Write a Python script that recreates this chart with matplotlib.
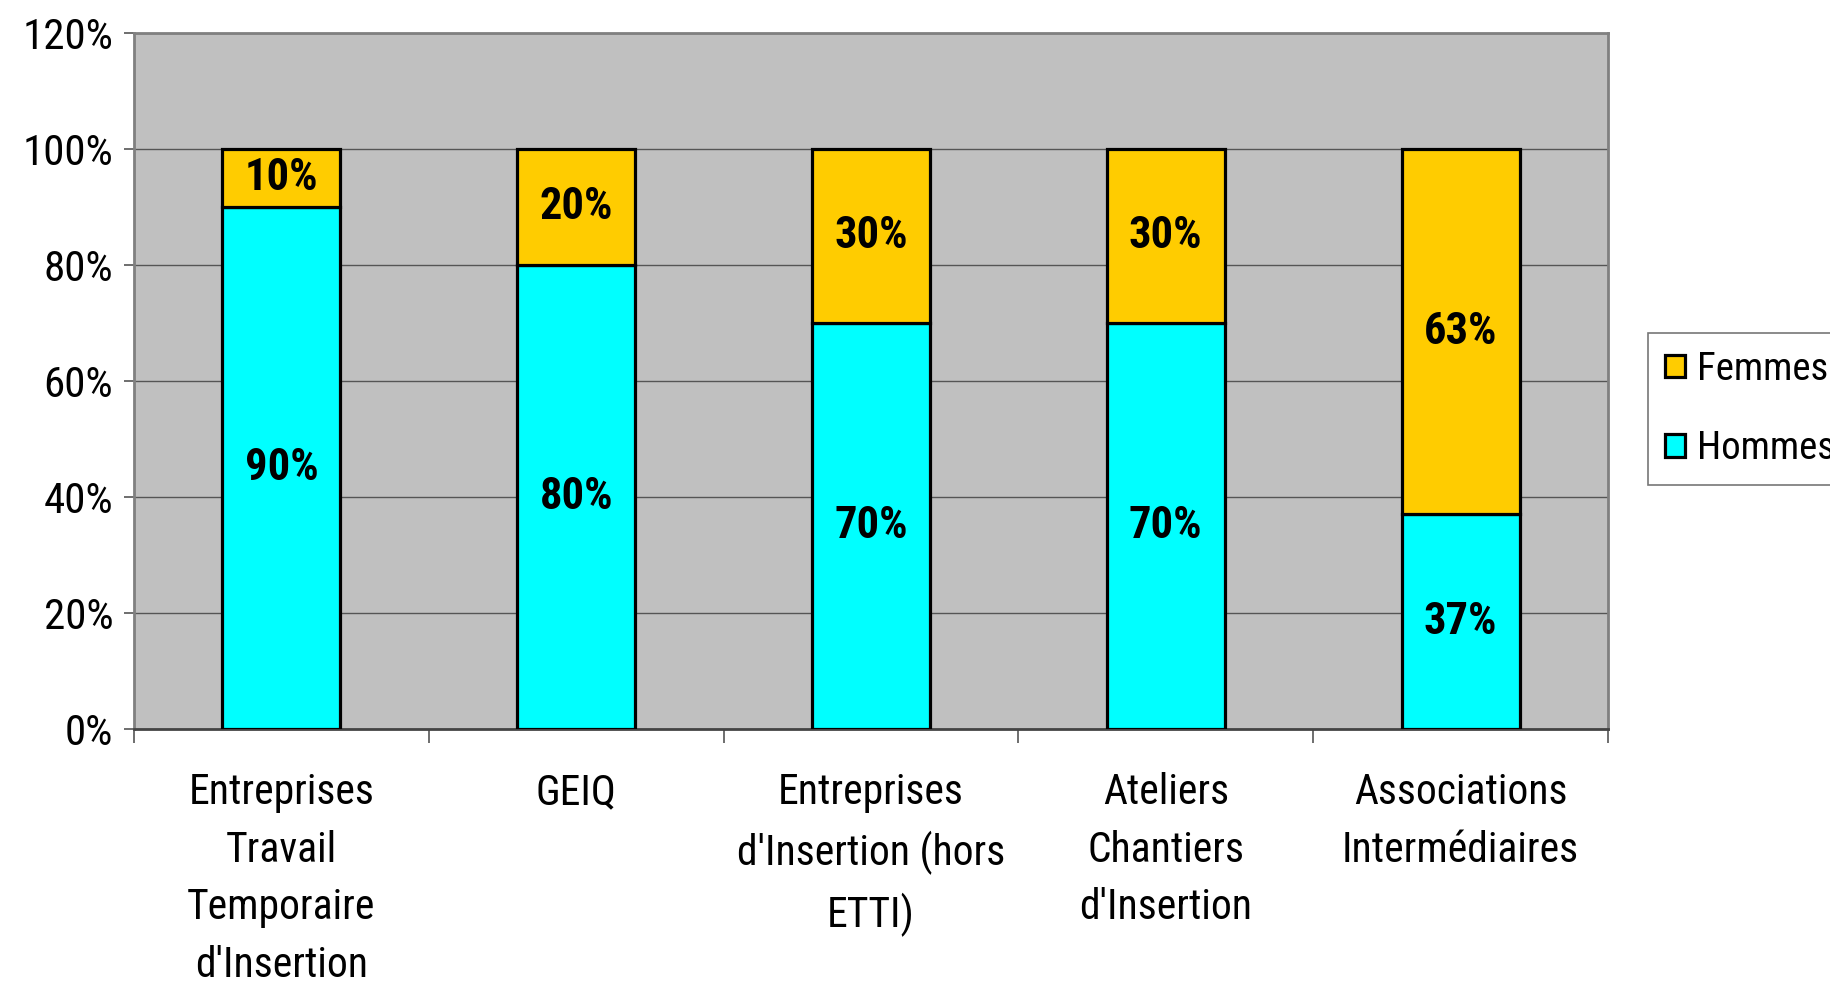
import numpy as np
import matplotlib.pyplot as plt
from matplotlib import font_manager

names = {f.name for f in font_manager.fontManager.ttflist}
fam = 'Liberation Sans'
for cand in ['Liberation Sans Narrow', 'Arial Narrow', 'Roboto Condensed']:
    if cand in names:
        fam = cand
        break
plt.rcParams['font.family'] = [fam, 'DejaVu Sans']

categories = ["Entreprises\nTravail\nTemporaire\nd'Insertion", "GEIQ",
              "Entreprises\nd'Insertion (hors\nETTI)", "Ateliers\nChantiers\nd'Insertion",
              "Associations\nIntermédiaires"]
hommes = [90, 80, 70, 70, 37]
femmes = [10, 20, 30, 30, 63]

fig = plt.figure(figsize=(18.31, 9.89), dpi=100)
ax = fig.add_axes([134/1831, 1-729/989, 1474/1831, 696/989])
ax.set_facecolor('#C0C0C0')

x = np.arange(len(categories))
w = 0.40
b1 = ax.bar(x, hommes, w, color='#00FFFF', edgecolor='black', linewidth=2.3, label='Hommes', zorder=3)
b2 = ax.bar(x, femmes, w, bottom=hommes, color='#FFCC00', edgecolor='black', linewidth=2.3, label='Femmes', zorder=3)

for i in range(len(categories)):
    ax.text(x[i], hommes[i] / 2, f"{hommes[i]}%", ha='center', va='center', fontsize=32, fontweight='bold', zorder=4)
    ax.text(x[i], hommes[i] + femmes[i] / 2, f"{femmes[i]}%", ha='center', va='center', fontsize=32, fontweight='bold', zorder=4)

ax.set_xlim(-0.5, len(categories) - 0.5)
ax.set_ylim(0, 120)
ax.set_yticks(np.arange(0, 121, 20))
ax.set_yticklabels([f"{v}%" for v in range(0, 121, 20)], fontsize=31)
ax.yaxis.grid(True, color='#555555', linewidth=1.0, zorder=1)
ax.tick_params(axis='y', length=7, width=1.2, color='#555555', pad=8)

ax.set_xticks(x)
ax.set_xticklabels(categories, fontsize=30, linespacing=1.52, va='top')
ax.tick_params(axis='x', which='major', length=0, pad=31)
# ticks between the categories
ax.set_xticks(np.arange(-0.5, len(categories)), minor=True)
ax.tick_params(axis='x', which='minor', length=10, width=1.2, color='#555555')

for s in ['top', 'right', 'left']:
    ax.spines[s].set_color('#808080')
    ax.spines[s].set_linewidth(2)
ax.spines['bottom'].set_color('#444444')
ax.spines['bottom'].set_linewidth(2)

leg = fig.legend(handles=[b2, b1], labels=['Femmes', 'Hommes'], loc='upper left',
                 bbox_to_anchor=(1648/1831, 1-333/989), fontsize=28, frameon=True,
                 fancybox=False, edgecolor='#555555', handlelength=0.5, handleheight=0.5,
                 handletextpad=0.3, labelspacing=1.1, borderpad=0.45, borderaxespad=0)
leg.get_frame().set_linewidth(1.2)

fig.savefig('out.png', dpi=100)
